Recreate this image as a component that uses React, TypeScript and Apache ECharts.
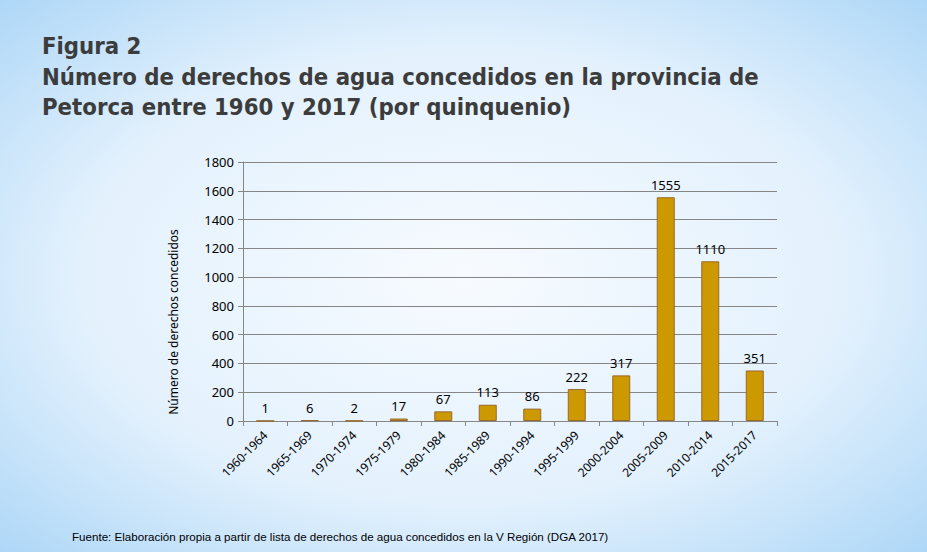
import React, { useEffect, useRef } from "react";
import * as echarts from "echarts";

const categories = [
  "1960-1964", "1965-1969", "1970-1974", "1975-1979", "1980-1984", "1985-1989",
  "1990-1994", "1995-1999", "2000-2004", "2005-2009", "2010-2014", "2015-2017",
];
const values = [1, 6, 2, 17, 67, 113, 86, 222, 317, 1555, 1110, 351];
const yTicks = { min: 0, max: 1800, interval: 200 };

const titleLines = [
  "Figura 2",
  "Número de derechos de agua concedidos en la provincia de",
  "Petorca entre 1960 y 2017 (por quinquenio)",
];
const yAxisName = "Número de derechos concedidos";
const sourceNote = "Fuente: Elaboración propia a partir de lista de derechos de agua concedidos en la V Región (DGA 2017)";

export default function App() {
  const ref = useRef<HTMLDivElement>(null);
  useEffect(() => {
    document.body.style.margin = "0";
    const chart = echarts.init(ref.current!, undefined, { renderer: "svg" });
    const titleStyle = {
      fontFamily: "'DejaVu Sans Condensed', 'DejaVu Sans', sans-serif",
      fontWeight: "bold" as const,
      fontSize: 23.7,
      fill: "#3c3c3c",
    };
    const labelFont = "'Noto Sans', sans-serif";
    chart.setOption({
      animation: false,
      backgroundColor: {
        type: "radial",
        x: 0.5,
        y: 0.5,
        r: 0.75,
        colorStops: [
          { offset: 0, color: "#f7fbff" },
          { offset: 0.55, color: "#e3f1fd" },
          { offset: 1, color: "#a6d3f6" },
        ],
      },
      graphic: [
        { type: "text", left: 42, top: 34, style: { ...titleStyle, text: titleLines[0] } },
        { type: "text", left: 42, top: 65, style: { ...titleStyle, text: titleLines[1] } },
        { type: "text", left: 42, top: 95, style: { ...titleStyle, text: titleLines[2] } },
        {
          type: "text",
          x: 173,
          y: 322,
          rotation: Math.PI / 2,
          style: {
            text: yAxisName,
            fontFamily: labelFont,
            fontSize: 12,
            fill: "#000",
            align: "center",
            verticalAlign: "middle",
          },
        },
        {
          type: "text",
          left: 72,
          top: 530,
          style: { text: sourceNote, fontFamily: "'Liberation Sans', Arial, sans-serif", fontSize: 11.6, fill: "#000" },
        },
      ],
      grid: { left: 243, right: 150, top: 162, bottom: 131 },
      xAxis: {
        type: "category",
        data: categories,
        axisLine: { lineStyle: { color: "#868686" } },
        axisTick: { show: true, length: 5, lineStyle: { color: "#868686" } },
        axisLabel: {
          rotate: 45,
          interval: 0,
          color: "#000",
          fontSize: 12,
          fontFamily: labelFont,
          margin: 12,
        },
      },
      yAxis: {
        type: "value",
        min: yTicks.min,
        max: yTicks.max,
        interval: yTicks.interval,
        axisLine: { show: true, lineStyle: { color: "#868686" } },
        axisTick: { show: true, length: 5, lineStyle: { color: "#868686" } },
        axisLabel: {
          color: "#000",
          fontSize: 13,
          fontFamily: labelFont,
          margin: 9,
          formatter: (v: number) => String(v),
        },
        splitLine: { lineStyle: { color: "#868686", width: 1 } },
      },
      series: [
        {
          type: "bar",
          data: values,
          barWidth: 18,
          itemStyle: { color: "#cc9900", borderColor: "#98682a", borderWidth: 1 },
          label: {
            show: true,
            position: "top",
            distance: 6,
            color: "#000",
            fontSize: 13,
            fontFamily: labelFont,
          },
        },
      ],
    });
    return () => chart.dispose();
  }, []);
  return <div ref={ref} style={{ width: 927, height: 552 }} />;
}
